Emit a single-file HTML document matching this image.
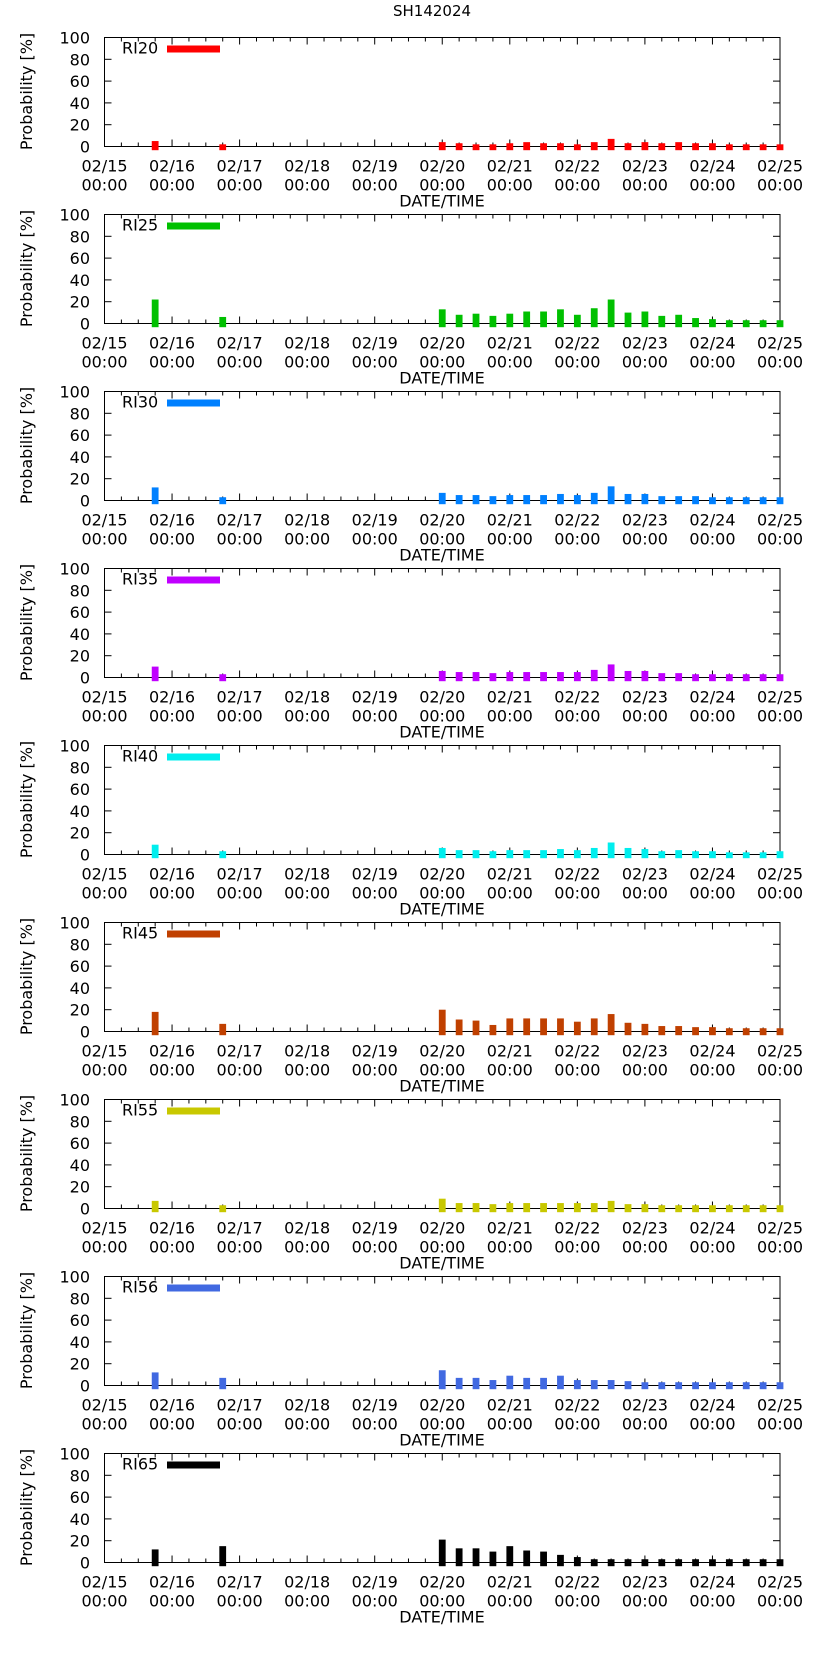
<!DOCTYPE html>
<html><head><meta charset="utf-8"><style>
html,body{margin:0;padding:0;background:#fff;}
svg{display:block;}
text{font-family:"DejaVu Sans","Liberation Sans",sans-serif;fill:#000;}
</style></head><body>
<svg id="chart" width="822" height="1653" viewBox="0 0 822 1653" xmlns="http://www.w3.org/2000/svg">
<text x="432" y="16" font-size="15" text-anchor="middle">SH142024</text>
</svg>
<script>
// Data
const seriesNames = ["RI20","RI25","RI30","RI35","RI40","RI45","RI55","RI56","RI65"];
const seriesColors = ["#ff0000","#00c000","#0080ff","#c000ff","#00eeee","#c04000","#c8c800","#4169e1","#000000"];
const xTickLabels = ["02/15","02/16","02/17","02/18","02/19","02/20","02/21","02/22","02/23","02/24","02/25"];
const yTicks = [0,20,40,60,80,100];
// times in hours from 02/15 00:00
const earlyTimes = [18, 42];
const lateStart = 120; // 02/20 00:00, then every 6h
const ri20 = [5,2, 4,3,2,2,3,4,3,3,2,4,7,3,4,3,4,3,3,2,2,2,2];
const ri25 = [22,6, 13,8,9,7,9,11,11,13,8,14,22,10,11,7,8,5,4,3,3,3,3];
const ri30 = [12,3, 7,5,5,4,5,5,5,6,5,7,13,6,6,4,4,4,3,3,3,3,3];
const ri35 = [10,3, 6,5,5,4,5,5,5,5,5,7,12,6,6,4,4,3,3,3,3,3,3];
const ri40 = [9,3, 6,4,4,3,4,4,4,5,4,6,11,6,5,3,4,3,3,2,2,2,3];
const ri45 = [18,7, 20,11,10,6,12,12,12,12,9,12,16,8,7,5,5,4,4,3,3,3,3];
const ri55 = [7,3, 9,5,5,4,5,5,5,5,5,5,7,4,4,3,3,3,3,3,3,3,3];
const ri56 = [12,7, 14,7,7,5,9,7,7,9,5,5,5,4,3,3,3,3,3,3,3,3,3];
const ri65 = [12,15, 21,13,13,10,15,11,10,7,5,3,3,3,3,3,3,3,3,3,3,3,3];
const allSeries = [ri20,ri25,ri30,ri35,ri40,ri45,ri55,ri56,ri65];

const NS="http://www.w3.org/2000/svg";
const svg=document.getElementById('chart');
const L=104.5, R=780, H=109, TOP0=37.5, GAP=177;
function xs(h){return L+(R-L)*h/240;}
function mk(tag,attrs,parent){const e=document.createElementNS(NS,tag);for(const k in attrs)e.setAttribute(k,attrs[k]);(parent||svg).appendChild(e);return e;}

seriesNames.forEach((name,i)=>{
  const top=TOP0+GAP*i, zero=top+H;
  const ys=v=>zero-H*v/100;
  const g=mk('g',{});
  
  
  // frame
  const f=mk('rect',{x:L,y:top,width:R-L,height:H,fill:'none',stroke:'#000','stroke-width':1},g);
  
  
  // x ticks
  for(let h=0;h<=240;h+=6){
    const x=xs(h), len=(h%24===0)?7:4;
    mk('line',{x1:x,y1:zero,x2:x,y2:zero-len,stroke:'#000','stroke-width':1},g);
    mk('line',{x1:x,y1:top,x2:x,y2:top+len,stroke:'#000','stroke-width':1},g);
  }
  xTickLabels.forEach((lab,k)=>{
    const x=xs(24*k);
    const t=mk('text',{x:x,y:zero+25,'font-size':16,'text-anchor':'middle'},g);
    t.textContent=lab;
    
    
    const t2=mk('text',{x:x,y:zero+44,'font-size':16,'text-anchor':'middle'},g);
    t2.textContent='00:00';
    
    
  });
  // y ticks
  yTicks.forEach(v=>{
    const y=ys(v);
    mk('line',{x1:L,y1:y,x2:L+7,y2:y,stroke:'#000','stroke-width':1},g);
    mk('line',{x1:R,y1:y,x2:R-7,y2:y,stroke:'#000','stroke-width':1},g);
    const t=mk('text',{x:90,y:y+6,'font-size':16,'text-anchor':'end'},g);
    t.textContent=v;
    
    
  });
  // bars (drawn on top of axes)
  const vals=allSeries[i];
  vals.forEach((v,j)=>{
    const h = j<earlyTimes.length ? earlyTimes[j] : lateStart+6*(j-earlyTimes.length);
    const b=mk('rect',{x:xs(h)-3.4,y:ys(v),width:6.8,height:zero+3.7-ys(v),fill:seriesColors[i]},g);
    
    
  });
  const yl=mk('text',{x:0,y:0,'font-size':16,'text-anchor':'middle',transform:`translate(32,${top+54}) rotate(-90)`},g);
  yl.textContent='Probability [%]';
  
  
  const xl=mk('text',{x:442,y:zero+60,'font-size':16,'text-anchor':'middle'},g);
  xl.textContent='DATE/TIME';
  
  
  // legend
  const lt=mk('text',{x:122,y:top+16,'font-size':16},g);
  lt.textContent=name;
  
  
  const ls=mk('rect',{x:167,y:top+8,width:53,height:7,fill:seriesColors[i]},g);
  
  
});
</script>
</body></html>
